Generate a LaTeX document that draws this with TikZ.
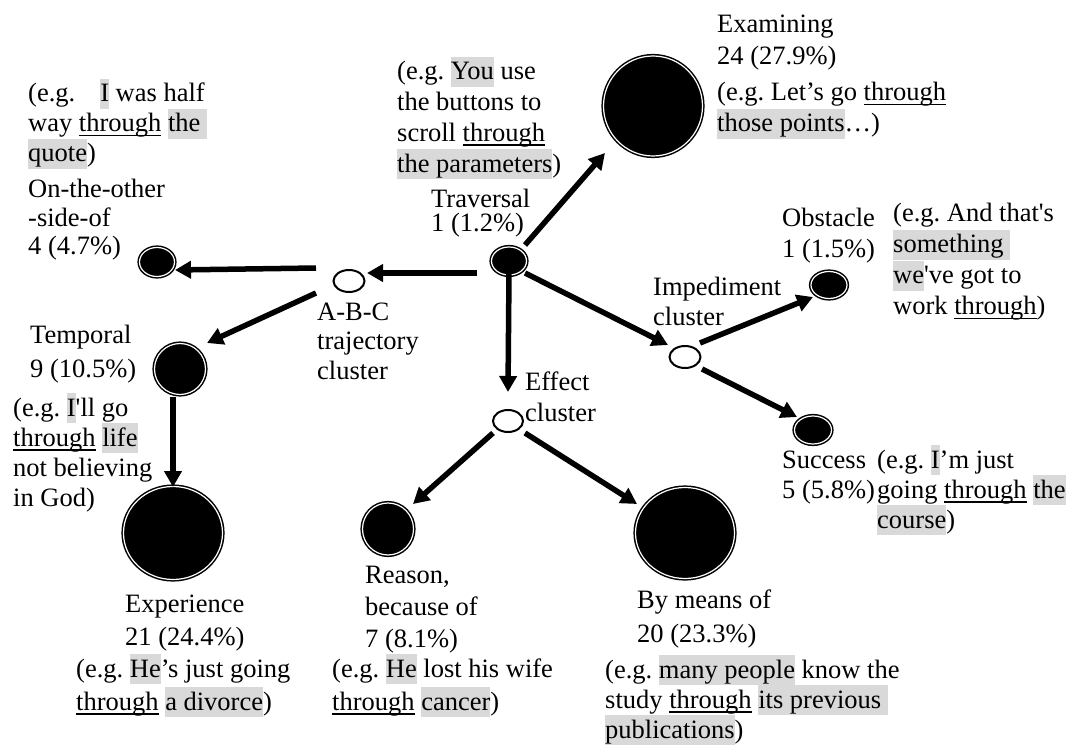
\documentclass[tikz,border=0pt]{standalone}
\usepackage{fontspec}
\setmainfont{Liberation Serif}
\usetikzlibrary{shapes.geometric,arrows.meta}
\definecolor{hlgray}{RGB}{217,217,217}
\newcommand\mys{\rule[-7pt]{0pt}{30pt}}
\newcommand\hl[1]{{\setlength{\fboxsep}{0pt}\colorbox{hlgray}{\mys #1}}}
\newsavebox\ulbox
\newcommand\ul[1]{\sbox\ulbox{#1}\rlap{\rule[-4.5pt]{\wd\ulbox}{1.6pt}}\usebox\ulbox}
\newcommand\blk[2]{\vtop{\baselineskip=#1pt\lineskiplimit=-1000pt\lineskip=0pt\relax #2}}
\newcommand\tline[1]{\hbox{#1}}
\begin{document}
\begin{tikzpicture}[x=1pt,y=-1pt,
  txt/.style={inner sep=0pt, anchor=base west, font=\fontsize{26.5}{30}\selectfont\frenchspacing},
  fullnode/.style={ellipse, fill=black, draw=black, line width=1.5pt, double=white, double distance=1.2pt, inner sep=0pt},
  opennode/.style={ellipse, fill=white, draw=black, line width=2pt, inner sep=0pt},
  arr/.style={line width=5.5pt, -{Triangle[length=16pt,width=17pt]}}]
\useasboundingbox (0,0) rectangle (1071,746);

% category nodes
\node[fullnode, minimum width=99pt, minimum height=100pt] (exam) at (653,106) {};
\node[fullnode, minimum width=35pt, minimum height=28pt] (trav) at (509,261) {};
\node[fullnode, minimum width=35pt, minimum height=29pt] (other) at (157,262) {};
\node[fullnode, minimum width=51pt, minimum height=51pt] (temp) at (180,369) {};
\node[fullnode, minimum width=99pt, minimum height=93pt] (exp) at (173,533) {};
\node[fullnode, minimum width=51pt, minimum height=52pt] (reason) at (388,529) {};
\node[fullnode, minimum width=99pt, minimum height=91pt] (means) at (685,533) {};
\node[fullnode, minimum width=36pt, minimum height=27pt] (obst) at (829,285) {};
\node[fullnode, minimum width=37pt, minimum height=28pt] (succ) at (813,430) {};
% cluster nodes
\node[opennode, minimum width=31pt, minimum height=22pt] (abc) at (349,281) {};
\node[opennode, minimum width=30pt, minimum height=22pt] (eff) at (508,421) {};
\node[opennode, minimum width=31pt, minimum height=22pt] (imp) at (685,357) {};

% arrows
\draw[arr] ([shift={(16,-16)}]trav.center) -- ([shift={(-48,47)}]exam.center);
\draw[arr] ([shift={(-32,12)}]trav.center) -- ([shift={(18,-8)}]abc.center);
\draw[arr] ([shift={(-33,-13)}]abc.center) -- ([shift={(18,8)}]other.center);
\draw[arr] ([shift={(-33,12)}]abc.center) -- ([shift={(27,-26)}]temp.center);
\draw[arr] ([shift={(-7,28)}]temp.center) -- ([shift={(0,-46)}]exp.center);
\draw[arr] ([shift={(0,12)}]trav.center) -- ([shift={(0,-29)}]eff.center);
\draw[arr] ([shift={(16,12)}]trav.center) -- ([shift={(-17,-12)}]imp.center);
\draw[arr] ([shift={(15,-14)}]imp.center) -- ([shift={(-16,12)}]obst.center);
\draw[arr] ([shift={(17,12)}]imp.center) -- ([shift={(-16,-13)}]succ.center);
\draw[arr] ([shift={(-15,12)}]eff.center) -- ([shift={(25,-25)}]reason.center);
\draw[arr] ([shift={(17,12)}]eff.center) -- ([shift={(-48,-29)}]means.center);

% texts
\node[txt] (t1) at (28,102) {\blk{30}{\tline{(e.g.\hspace{25pt}\hl{I} was half}\tline{way \ul{through} \hl{the\ }}\tline{\hl{quote})}}};
\node[txt] (t2) at (28,198) {\blk{28.5}{\tline{On-the-other}\tline{-side-of}\tline{4 (4.7\%)}}};
\node[txt] (t3) at (397,80) {\blk{30.7}{\tline{(e.g. \hl{You} use}\tline{the buttons to}\tline{scroll \ul{through}}\tline{\hl{the parameters})}}};
\node[txt] (t4) at (431,208) {\blk{24}{\tline{Traversal}\tline{1 (1.2\%)}}};
\node[txt] (t5) at (717,33) {\blk{32}{\tline{Examining}\tline{24 (27.9\%)}}};
\node[txt] (t6) at (717,101) {\blk{31}{\tline{(e.g. Let’s go \ul{through}}\tline{\hl{those points}…)}}};
\node[txt] (t7) at (782,227) {\blk{31}{\tline{Obstacle}\tline{1 (1.5\%)}}};
\node[txt] (t8) at (893,222) {\blk{31}{\tline{(e.g. And that\textquotesingle s}\tline{\hl{something\ }}\tline{\hl{we}\textquotesingle ve got to}\tline{work \ul{through})}}};
\node[txt] (t9) at (653,295) {\blk{30}{\tline{Impediment}\tline{cluster}}};
\node[txt] (t10) at (317,320) {\blk{29.5}{\tline{A-B-C}\tline{trajectory}\tline{cluster}}};
\node[txt] (t11) at (30,343) {\blk{34}{\tline{Temporal}\tline{9 (10.5\%)}}};
\node[txt] (t12) at (13,416) {\blk{30}{\tline{(e.g. \hl{I}\textquotesingle ll go}\tline{\ul{through} \hl{life}}\tline{not believing}\tline{in God)}}};
\node[txt] (t13) at (525,390) {\blk{31}{\tline{Effect}\tline{cluster}}};
\node[txt] (t14) at (782,468) {\blk{30}{\tline{Success}\tline{5 (5.8\%)}}};
\node[txt] (t15) at (877,468) {\blk{30}{\tline{(e.g. \hl{I}’m just}\tline{going \ul{through} \hl{the}}\tline{\hl{course})}}};
\node[txt] (t16) at (125,612) {\blk{33}{\tline{Experience}\tline{21 (24.4\%)}}};
\node[txt] (t17) at (76,677) {\blk{33}{\tline{(e.g. \hl{He}’s just going}\tline{\ul{through} \hl{a divorce})}}};
\node[txt] (t18) at (365,583) {\blk{32}{\tline{Reason,}\tline{because of}\tline{7 (8.1\%)}}};
\node[txt] (t19) at (332,677) {\blk{33}{\tline{(e.g. \hl{He} lost his wife}\tline{\ul{through} \hl{cancer})}}};
\node[txt] (t20) at (637,608) {\blk{34}{\tline{By means of}\tline{20 (23.3\%)}}};
\node[txt] (t21) at (605,678) {\blk{30}{\tline{(e.g. \hl{many people} know the}\tline{study \ul{through} \hl{its previous\ }}\tline{\hl{publications})}}};
\end{tikzpicture}
\end{document}
